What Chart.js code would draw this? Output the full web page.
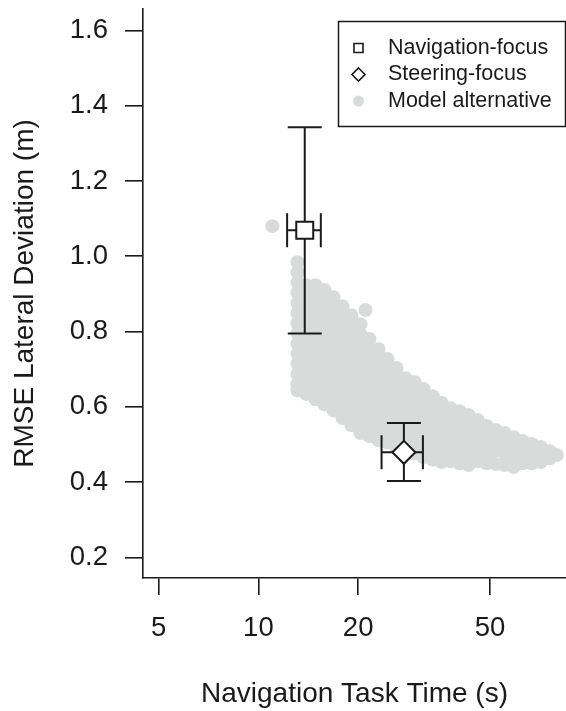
<!DOCTYPE html>
<html><head><meta charset="utf-8">
<script src="https://cdn.jsdelivr.net/npm/chart.js@4/dist/chart.umd.min.js"></script>
<style>html,body{margin:0;padding:0;background:#fff;overflow:hidden}#wrap{position:relative;width:566px;height:711px;overflow:hidden}</style>
</head><body><div id="wrap"><canvas id="c" width="566" height="711"></canvas></div>
<script>
// ---- data ----
const xTickValues = [5, 10, 20, 50];
const xTickLabels = ['5', '10', '20', '50'];
const yTickValues = [0.2, 0.4, 0.6, 0.8, 1.0, 1.2, 1.4, 1.6];
const yTickLabels = ['0.2', '0.4', '0.6', '0.8', '1.0', '1.2', '1.4', '1.6'];
const seriesNames = ['Navigation-focus', 'Steering-focus', 'Model alternative'];
const xTitle = 'Navigation Task Time (s)';
const yTitle = 'RMSE Lateral Deviation (m)';

const navTime = [13.80], navRmse = [1.069];
const navTimeLow = [12.21], navTimeHigh = [15.43];
const navRmseLow = [0.795], navRmseHigh = [1.343];

const steerTime = [27.48], steerRmse = [0.479];
const steerTimeLow = [23.53], steerTimeHigh = [31.36];
const steerRmseLow = [0.4025], steerRmseHigh = [0.557];

// model alternatives: task time of each column and the RMSE values in it
const modelTimes = [11.02, 13.12, 13.96, 14.87, 15.83, 16.85, 17.94, 19.10, 20.33, 21.05, 21.64, 23.04,
  24.53, 26.12, 27.81, 29.60, 31.51, 33.56, 35.72, 38.03, 40.49, 43.10, 45.88, 48.85, 52.00,
  55.36, 58.94, 62.75, 66.80, 71.12, 75.72, 79.50];
const modelRmse = [
  [1.080],
  [0.984, 0.957, 0.930, 0.903, 0.876, 0.849, 0.822, 0.795, 0.768, 0.741, 0.714, 0.687, 0.660, 0.644],
  [0.923, 0.896, 0.869, 0.842, 0.815, 0.788, 0.761, 0.734, 0.707, 0.680, 0.653, 0.634],
  [0.923, 0.896, 0.869, 0.842, 0.815, 0.788, 0.761, 0.734, 0.707, 0.680, 0.653, 0.620],
  [0.910, 0.883, 0.856, 0.829, 0.802, 0.775, 0.748, 0.721, 0.694, 0.667, 0.640, 0.606],
  [0.891, 0.864, 0.837, 0.810, 0.783, 0.756, 0.729, 0.702, 0.675, 0.648, 0.621, 0.590],
  [0.867, 0.840, 0.813, 0.786, 0.759, 0.732, 0.705, 0.678, 0.651, 0.624, 0.597, 0.570],
  [0.843, 0.816, 0.789, 0.762, 0.735, 0.708, 0.681, 0.654, 0.627, 0.600, 0.573, 0.551],
  [0.819, 0.792, 0.765, 0.738, 0.711, 0.684, 0.657, 0.630, 0.603, 0.576, 0.549, 0.530],
  [0.857],
  [0.780, 0.753, 0.726, 0.699, 0.672, 0.645, 0.618, 0.591, 0.564, 0.537, 0.522],
  [0.753, 0.726, 0.699, 0.672, 0.645, 0.618, 0.591, 0.564, 0.537, 0.511],
  [0.727, 0.700, 0.673, 0.646, 0.619, 0.592, 0.565, 0.538, 0.505],
  [0.703, 0.676, 0.649, 0.622, 0.595, 0.568, 0.541, 0.514, 0.490],
  [0.676, 0.649, 0.622, 0.595, 0.568, 0.541, 0.514, 0.487],
  [0.665, 0.638, 0.611, 0.584, 0.557, 0.530, 0.503, 0.476],
  [0.647, 0.620, 0.593, 0.566, 0.539, 0.512, 0.485, 0.466],
  [0.628, 0.601, 0.574, 0.547, 0.520, 0.493, 0.460],
  [0.610, 0.583, 0.556, 0.529, 0.502, 0.475, 0.453],
  [0.596, 0.569, 0.542, 0.515, 0.488, 0.455],
  [0.588, 0.561, 0.534, 0.507, 0.480, 0.450],
  [0.578, 0.551, 0.524, 0.497, 0.470, 0.445],
  [0.565, 0.538, 0.511, 0.484, 0.455],
  [0.549, 0.522, 0.495, 0.468, 0.450],
  [0.538, 0.511, 0.484, 0.448],
  [0.530, 0.503, 0.476, 0.445],
  [0.519, 0.492, 0.465, 0.440],
  [0.509, 0.482, 0.450],
  [0.501, 0.474, 0.450],
  [0.493, 0.470, 0.453],
  [0.482, 0.463],
  [0.472]
];

// ---- build library data ----
const modelPoints = [];
modelTimes.forEach((t, i) => modelRmse[i].forEach(r => modelPoints.push({x: t, y: r})));
const navPoints = navTime.map((t, i) => ({x: t, y: navRmse[i]}));
const steerPoints = steerTime.map((t, i) => ({x: t, y: steerRmse[i]}));
const errorSets = [
  {ds: 0, tl: navTimeLow, th: navTimeHigh, rl: navRmseLow, rh: navRmseHigh},
  {ds: 1, tl: steerTimeLow, th: steerTimeHigh, rl: steerRmseLow, rh: steerRmseHigh}
];

const FONT = "'Liberation Sans', Arial, Helvetica, sans-serif";
const INK = '#1a1a1a';
const GRAY = '#d9dada';
const FS = 27.5;
const FT = 28;

const errorBarPlugin = {
  id: 'errorBars',
  afterDatasetDraw(chart, args) {
    if (args.index !== 2) return;
    const ctx = chart.ctx, xs = chart.scales.x, ys = chart.scales.y;
    ctx.save();
    ctx.strokeStyle = INK; ctx.lineWidth = 2;
    const cap = 17;
    errorSets.forEach(e => {
      const pts = chart.data.datasets[e.ds].data;
      pts.forEach((p, i) => {
        const px = xs.getPixelForValue(p.x), py = ys.getPixelForValue(p.y);
        const x0 = xs.getPixelForValue(e.tl[i]), x1 = xs.getPixelForValue(e.th[i]);
        const y0 = ys.getPixelForValue(e.rl[i]), y1 = ys.getPixelForValue(e.rh[i]);
        ctx.beginPath();
        ctx.moveTo(px, y0); ctx.lineTo(px, y1);
        ctx.moveTo(px - cap, y0); ctx.lineTo(px + cap, y0);
        ctx.moveTo(px - cap, y1); ctx.lineTo(px + cap, y1);
        ctx.moveTo(x0, py); ctx.lineTo(x1, py);
        ctx.moveTo(x0, py - cap); ctx.lineTo(x0, py + cap);
        ctx.moveTo(x1, py - cap); ctx.lineTo(x1, py + cap);
        ctx.stroke();
      });
    });
    ctx.restore();
  }
};

const legendPlugin = {
  id: 'boxLegend',
  afterDraw(chart) {
    const ctx = chart.ctx;
    const box = {l: 338.5, t: 21.5, r: 565.5, b: 126.5};
    ctx.save();
    ctx.fillStyle = '#fff';
    ctx.fillRect(box.l, box.t, box.r - box.l, box.b - box.t);
    ctx.strokeStyle = INK; ctx.lineWidth = 1.5;
    ctx.strokeRect(box.l, box.t, box.r - box.l, box.b - box.t);
    const rows = [48, 74.5, 101];
    const sx = 358.5;
    chart.data.datasets.forEach((ds, i) => {
      const y = rows[i];
      ctx.beginPath();
      if (ds.pointStyle === 'rect') {
        ctx.rect(sx - 4.5, y - 4.5, 9, 9);
        ctx.fillStyle = '#fff'; ctx.fill();
        ctx.lineWidth = 1.6; ctx.strokeStyle = INK; ctx.stroke();
      } else if (ds.pointStyle === 'rectRot') {
        ctx.moveTo(sx, y - 6.5); ctx.lineTo(sx + 6.5, y); ctx.lineTo(sx, y + 6.5); ctx.lineTo(sx - 6.5, y); ctx.closePath();
        ctx.fillStyle = '#fff'; ctx.fill();
        ctx.lineWidth = 1.6; ctx.strokeStyle = INK; ctx.stroke();
      } else {
        ctx.arc(sx, y, 5.5, 0, Math.PI * 2);
        ctx.fillStyle = ds.backgroundColor; ctx.fill();
      }
      ctx.fillStyle = INK;
      ctx.font = '21.5px ' + FONT;
      ctx.textAlign = 'left'; ctx.textBaseline = 'middle';
      ctx.fillText(ds.label, 388, y);
    });
    ctx.restore();
  }
};

new Chart(document.getElementById('c'), {
  type: 'scatter',
  data: {
    datasets: [
      {label: seriesNames[0], data: navPoints, pointStyle: 'rect', pointRadius: 12, pointHoverRadius: 12,
       backgroundColor: '#fff', borderColor: INK, borderWidth: 2},
      {label: seriesNames[1], data: steerPoints, pointStyle: 'rectRot', pointRadius: 11.5, pointHoverRadius: 11.5,
       backgroundColor: '#fff', borderColor: INK, borderWidth: 2},
      {label: seriesNames[2], data: modelPoints, pointStyle: 'circle', pointRadius: 7, pointHoverRadius: 7,
       backgroundColor: GRAY, borderWidth: 0}
    ]
  },
  options: {
    responsive: false,
    animation: false,
    devicePixelRatio: 1,
    layout: {autoPadding: false, padding: {top: 9, left: 0, right: 0, bottom: 0}},
    plugins: {legend: {display: false}, tooltip: {enabled: false}},
    events: [],
    scales: {
      x: {
        type: 'logarithmic', min: 4.486, max: 84.75,
        afterBuildTicks: s => { s.ticks = xTickValues.map(v => ({value: v})); },
        afterFit: s => { s.height = 133; s.paddingLeft = 0; s.paddingRight = 0; s.paddingTop = 0; s.paddingBottom = 0; },
        ticks: {callback: (v, i) => xTickLabels[i], font: {family: FONT, size: FS}, color: INK,
                padding: 17, autoSkip: false, maxRotation: 0, minRotation: 0},
        grid: {drawOnChartArea: false, drawTicks: true, tickLength: 17, color: INK, lineWidth: 1.6},
        border: {display: true, color: INK, width: 1.6},
        title: {display: true, text: xTitle, font: {family: FONT, size: FT}, color: INK, padding: {top: 0, bottom: 0}}
      },
      y: {
        type: 'linear', min: 0.145, max: 1.657,
        afterBuildTicks: s => { s.ticks = yTickValues.map(v => ({value: v})); },
        afterFit: s => { s.width = 143; s.paddingTop = 0; s.paddingBottom = 0; s.paddingLeft = 0; s.paddingRight = 0; },
        ticks: {callback: (v, i) => yTickLabels[i], font: {family: FONT, size: FS}, color: INK, padding: 17},
        grid: {drawOnChartArea: false, drawTicks: true, tickLength: 18, color: INK, lineWidth: 1.6},
        border: {display: true, color: INK, width: 1.6},
        title: {display: true, text: yTitle, font: {family: FONT, size: FT}, color: INK, padding: {top: 8, bottom: 0}}
      }
    }
  },
  plugins: [errorBarPlugin, legendPlugin]
});
</script></body></html>
